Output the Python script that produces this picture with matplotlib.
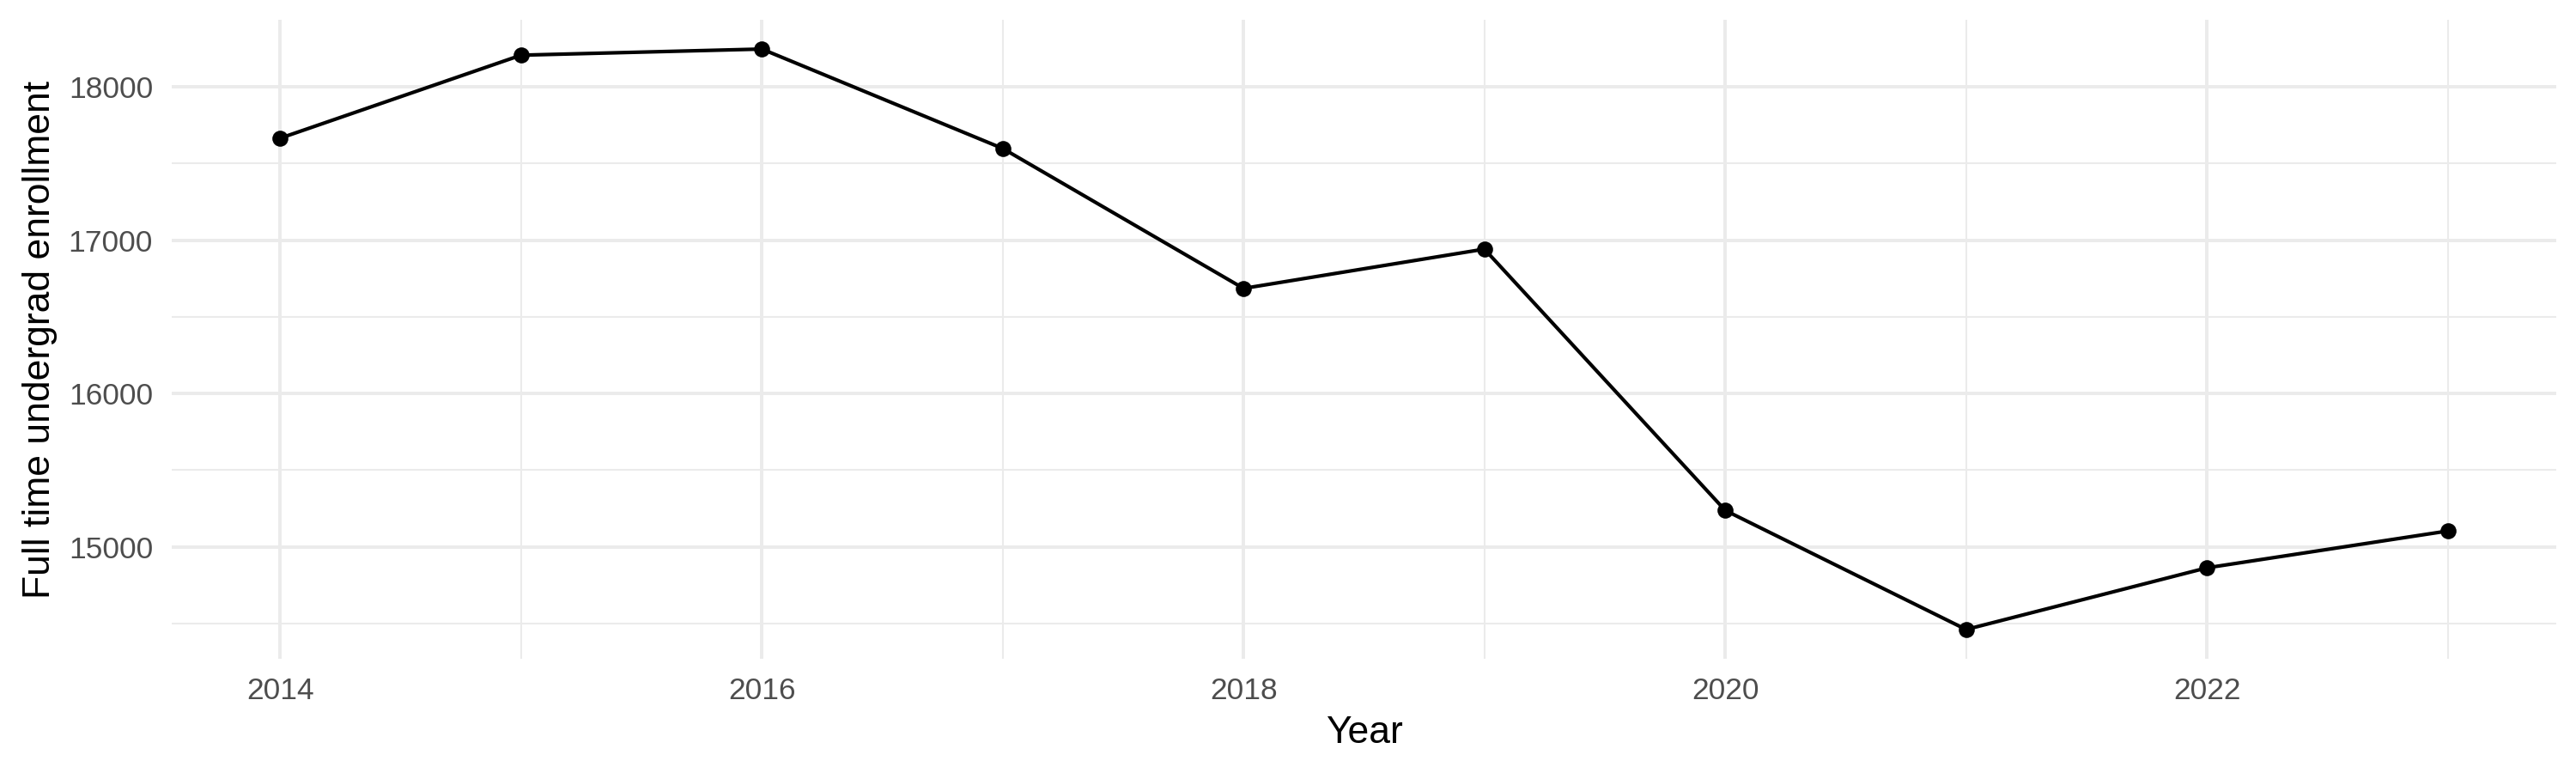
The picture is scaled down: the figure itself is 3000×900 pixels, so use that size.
import matplotlib
matplotlib.use("Agg")
import matplotlib.pyplot as plt
from matplotlib.ticker import MultipleLocator

years = [2014, 2015, 2016, 2017, 2018, 2019, 2020, 2021, 2022, 2023]
enrollment = [17664, 18205, 18245, 17597, 16685, 16941, 15238, 14462, 14864, 15104]
y_ticks = [15000, 16000, 17000, 18000]
x_ticks = [2014, 2016, 2018, 2020, 2022]
x_label = "Year"
y_label = "Full time undergrad enrollment"

plt.rcParams['font.family'] = ['Liberation Sans', 'DejaVu Sans']

fig = plt.figure(figsize=(10, 3), dpi=300)
ax = fig.add_axes([0.0667, 0.1481, 0.9256, 0.8260])

ax.plot(years, enrollment, color='black', linewidth=1.0, zorder=3)
ax.scatter(years, enrollment, color='black', s=20, zorder=4, linewidths=0)

ymin, ymax = min(enrollment), max(enrollment)
pad = (ymax - ymin) * 0.05
ax.set_ylim(ymin - pad, ymax + pad)
ax.set_xlim(years[0] - 0.45, years[-1] + 0.45)

ax.set_xticks(x_ticks)
ax.set_yticks(y_ticks)
ax.xaxis.set_minor_locator(MultipleLocator(1))
ax.yaxis.set_minor_locator(MultipleLocator(500))

ax.grid(True, which='major', color='#EBEBEB', linewidth=0.95)
ax.grid(True, which='minor', color='#EBEBEB', linewidth=0.5)
ax.set_axisbelow(True)

for s in ax.spines.values():
    s.set_visible(False)
ax.tick_params(which='both', length=0)
ax.tick_params(axis='x', pad=5, labelsize=8.5, labelcolor='#4D4D4D')
ax.tick_params(axis='y', pad=5.3, labelsize=8.5, labelcolor='#4D4D4D')

ax.set_xlabel(x_label, fontsize=10.7, color='black', labelpad=3)
ax.set_ylabel(y_label, fontsize=10.7, color='black', labelpad=3)

fig.savefig("out.png", dpi=300, facecolor='white')
